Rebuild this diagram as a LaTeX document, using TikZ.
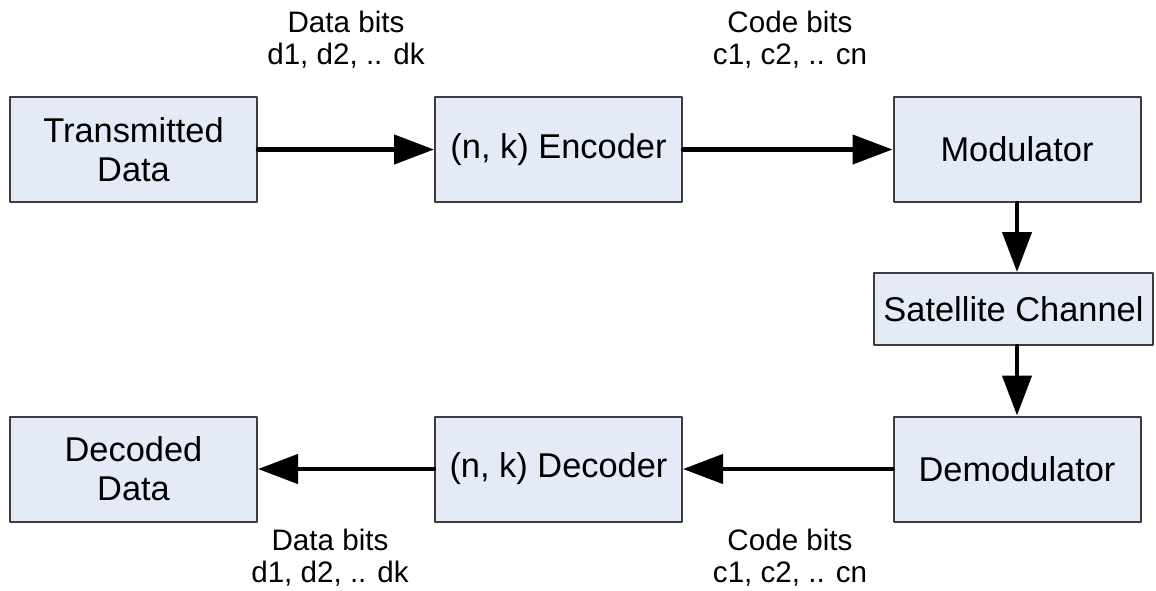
\documentclass[tikz,border=0pt]{standalone}
\usepackage{fontspec}
\setmainfont{Liberation Sans}
\usetikzlibrary{arrows.meta}
\definecolor{boxfill}{HTML}{E5EBF6}
\definecolor{boxline}{HTML}{3C3C3C}
\begin{document}
\begin{tikzpicture}[line cap=round,line join=round,x=0.5pt,y=-0.5pt,
	blk/.style={draw=boxline,fill=boxfill,line width=1pt,minimum width=123.5pt,minimum height=52.5pt,align=center,font=\fontsize{17.2}{19.5}\selectfont,inner sep=0pt},
	lbl/.style={align=center,font=\fontsize{14.8}{16}\selectfont,inner sep=0pt},
	flow/.style={line width=2.2pt,-{Triangle[length=20pt,width=14.5pt]}}]
		\useasboundingbox (0,0) rectangle (1156,590);
		\node [blk] (tx) at (133.5,149.5) {Transmitted\\Data};
		\node [blk] (enc) at (558.5,149.5) {(n, k) Encoder};
		\node [blk] (mod) at (1017,149.5) {Modulator};
		\node [blk,minimum width=139.5pt,minimum height=36pt] (sat) at (1013.5,309) {Satellite Channel};
		\node [blk] (demod) at (1017,469) {Demodulator};
		\node [blk] (dec) at (558.5,469) {(n, k) Decoder};
		\node [blk] (rx) at (133.5,469) {Decoded\\Data};
		\draw [flow] (tx) -- (enc);
		\draw [flow] (enc) -- (mod);
		\draw [flow] (mod.south) -- (mod.south |- sat.north);
		\draw [flow] (mod.south |- sat.south) -- (demod.north);
		\draw [flow] (demod) -- (dec);
		\draw [flow] (dec) -- (rx);
		\node [lbl] (dtop) at (346,40) {Data bits\\d1, d2, .. dk};
		\node [lbl] (ctop) at (790,40) {Code bits\\c1, c2, .. cn};
		\node [lbl] (dbot) at (330,558) {Data bits\\d1, d2, .. dk};
		\node [lbl] (cbot) at (790,558) {Code bits\\c1, c2, .. cn};
\end{tikzpicture}
\end{document}
